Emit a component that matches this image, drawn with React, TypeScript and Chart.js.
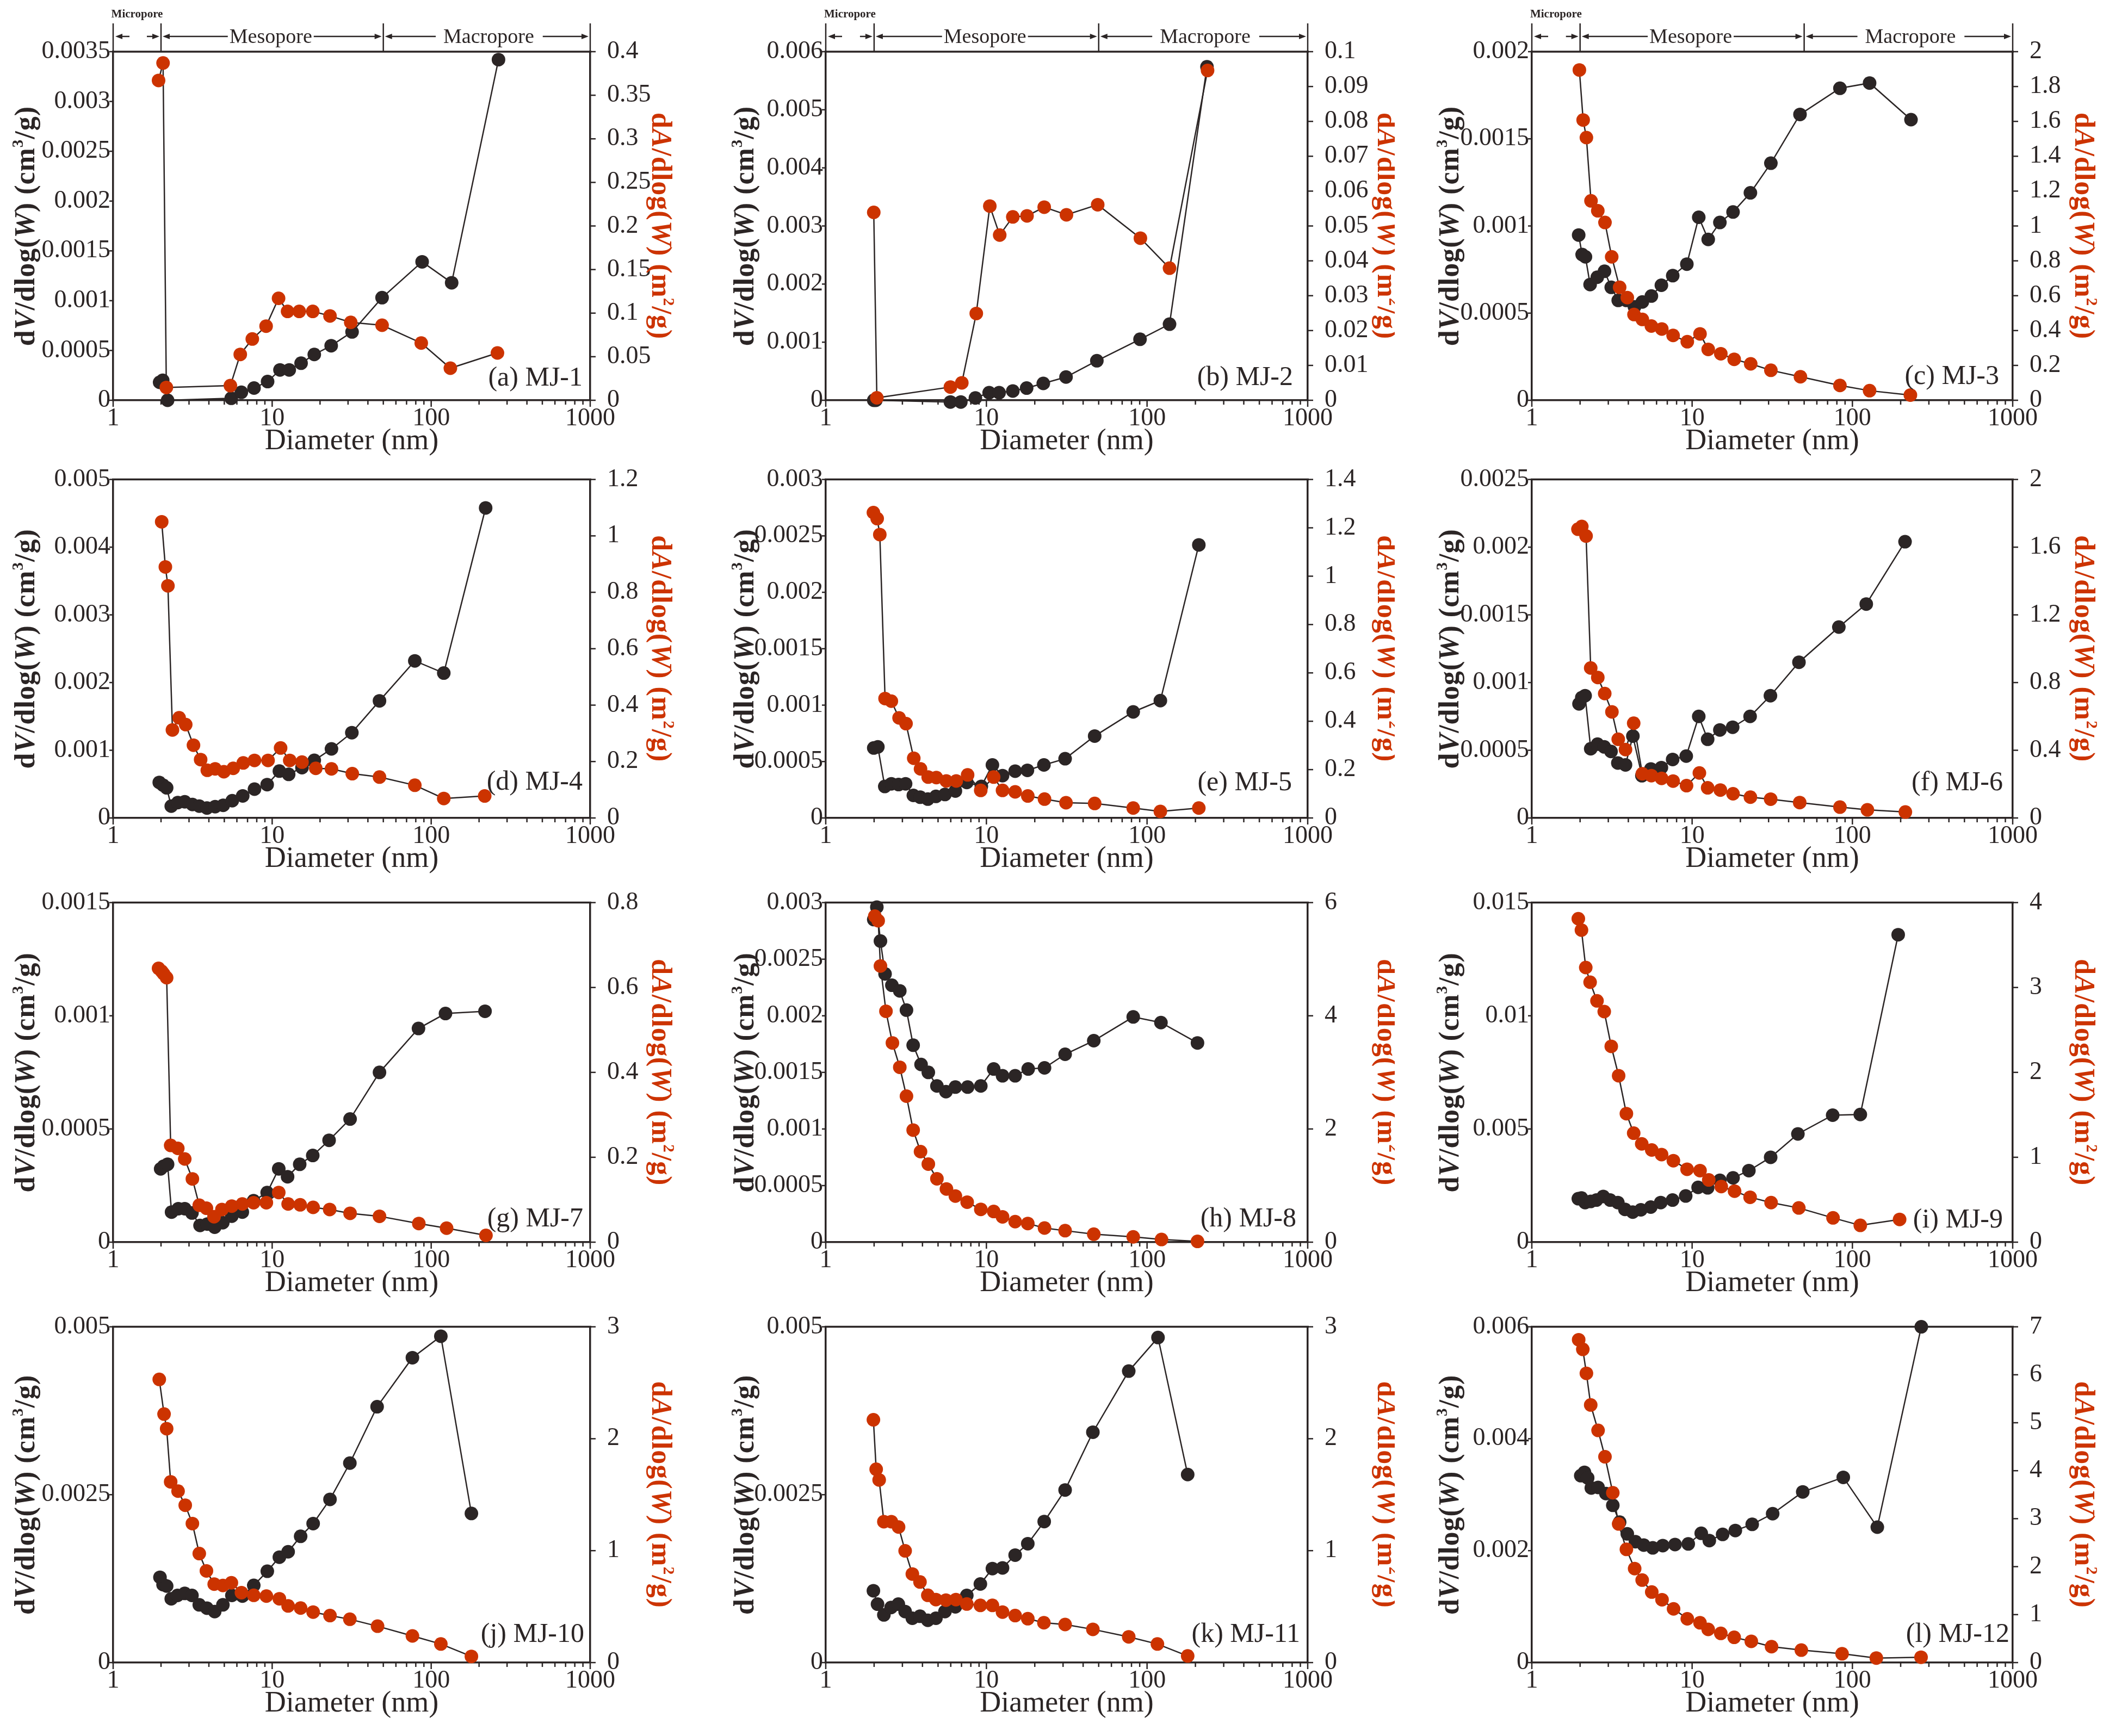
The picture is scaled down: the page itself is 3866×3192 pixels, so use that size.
import { useEffect, useRef } from "react"
import { Chart, registerables } from "chart.js"

Chart.register(...registerables)

const INK = "#2b2525"
const RED = "#cc3300"
const FONT = "'Liberation Serif', 'Times New Roman', serif"
Chart.defaults.font.family = FONT

// ---- data (diameter in nm) ----
const mj1VolX = [1.96, 2.05, 2.2, 5.53, 6.4, 7.69, 9.36, 11.2, 12.8, 15.2, 18.4, 23.5, 31.8, 49.1, 87.7, 134.5, 265]
const mj1VolY = [0.00018, 0.0002, 0, 0.00002, 0.00008, 0.000123, 0.000188, 0.000305, 0.000305, 0.000372, 0.00046, 0.000548, 0.000686, 0.00103, 0.00139, 0.00118, 0.00342]
const mj1AreaX = [1.93, 2.06, 2.16, 5.46, 6.3, 7.5, 9.16, 10.97, 12.5, 14.8, 18.0, 23.1, 31.2, 49.1, 86.6, 132, 261]
const mj1AreaY = [0.367, 0.387, 0.0147, 0.0168, 0.0526, 0.0703, 0.0851, 0.117, 0.102, 0.102, 0.102, 0.0968, 0.0894, 0.0861, 0.0657, 0.0368, 0.0543]

const mj2VolX = [1.99, 2.05, 5.97, 6.93, 8.54, 10.4, 12.0, 14.6, 17.8, 22.6, 31.3, 48.7, 90.4, 138, 236]
const mj2VolY = [0, 0, -0.00003, -0.00003, 0.00004, 0.00013, 0.00013, 0.00016, 0.00021, 0.00029, 0.0004, 0.00068, 0.00105, 0.00131, 0.00574]
const mj2AreaX = [1.99, 2.08, 5.97, 7.03, 8.65, 10.5, 12.1, 14.6, 17.9, 22.9, 31.5, 49.3, 90.9, 138, 238]
const mj2AreaY = [0.0539, 0.0007, 0.0038, 0.005, 0.0249, 0.0557, 0.0474, 0.0526, 0.0529, 0.0554, 0.0532, 0.0561, 0.0465, 0.0379, 0.0946]

const mj3VolX = [1.96, 2.06, 2.16, 2.31, 2.56, 2.84, 3.13, 3.46, 3.89, 4.37, 4.89, 5.57, 6.43, 7.57, 9.27, 11.0, 12.6, 14.9, 18.0, 23.1, 31.0, 47.1, 83.6, 128, 232]
const mj3VolY = [0.000948, 0.000836, 0.000823, 0.000664, 0.000706, 0.00074, 0.000648, 0.000573, 0.000573, 0.000536, 0.000564, 0.000598, 0.00066, 0.000715, 0.000781, 0.00105, 0.000923, 0.00102, 0.00108, 0.00119, 0.00136, 0.00164, 0.00179, 0.00182, 0.00161]
const mj3AreaX = [1.98, 2.09, 2.19, 2.34, 2.58, 2.86, 3.15, 3.53, 3.94, 4.34, 4.89, 5.57, 6.47, 7.61, 9.33, 11.2, 12.6, 15.1, 18.3, 23.2, 31.0, 47.4, 83.6, 128, 230]
const mj3AreaY = [1.895, 1.608, 1.507, 1.144, 1.087, 1.02, 0.823, 0.648, 0.589, 0.492, 0.464, 0.426, 0.409, 0.372, 0.336, 0.381, 0.292, 0.267, 0.235, 0.209, 0.172, 0.135, 0.085, 0.055, 0.03]

const mj4VolX = [1.95, 2.06, 2.17, 2.32, 2.55, 2.82, 3.15, 3.48, 3.89, 4.38, 4.92, 5.61, 6.53, 7.74, 9.3, 11.1, 12.7, 15.4, 18.4, 23.6, 31.7, 47.3, 78.9, 120, 220]
const mj4VolY = [0.000525, 0.000485, 0.000445, 0.000175, 0.000227, 0.000239, 0.000199, 0.000175, 0.000147, 0.000167, 0.000187, 0.000255, 0.000326, 0.000426, 0.000493, 0.000692, 0.000644, 0.000744, 0.000851, 0.00102, 0.00126, 0.00173, 0.00232, 0.00214, 0.00458]
const mj4AreaX = [2.02, 2.13, 2.21, 2.36, 2.6, 2.86, 3.2, 3.55, 3.91, 4.38, 4.97, 5.69, 6.58, 7.74, 9.42, 11.3, 12.9, 15.4, 18.8, 23.6, 31.9, 47.3, 78.9, 120, 217]
const mj4AreaY = [1.05, 0.89, 0.823, 0.312, 0.355, 0.331, 0.258, 0.207, 0.169, 0.174, 0.164, 0.176, 0.195, 0.204, 0.204, 0.248, 0.204, 0.198, 0.176, 0.174, 0.157, 0.145, 0.116, 0.069, 0.078]

const mj5VolX = [1.99, 2.11, 2.33, 2.56, 2.84, 3.14, 3.51, 3.87, 4.32, 4.85, 5.52, 6.41, 7.55, 9.3, 10.9, 12.6, 15.1, 18.0, 22.8, 30.9, 47.2, 82.0, 121, 210]
const mj5VolY = [0.00062, 0.00063, 0.000279, 0.000303, 0.000296, 0.000303, 0.0002, 0.000184, 0.000167, 0.000191, 0.000208, 0.000239, 0.000315, 0.00028, 0.00047, 0.000375, 0.000415, 0.000422, 0.00047, 0.000525, 0.000726, 0.00094, 0.00104, 0.00242]
const mj5AreaX = [1.98, 2.09, 2.17, 2.34, 2.56, 2.86, 3.16, 3.53, 3.89, 4.34, 4.88, 5.63, 6.49, 7.64, 9.22, 11.1, 12.6, 15.1, 18.1, 23.0, 31.3, 47.2, 82, 121, 210]
const mj5AreaY = [1.263, 1.238, 1.172, 0.494, 0.483, 0.414, 0.39, 0.247, 0.203, 0.169, 0.167, 0.153, 0.153, 0.178, 0.114, 0.169, 0.114, 0.108, 0.091, 0.078, 0.063, 0.06, 0.041, 0.027, 0.041]

const mj6VolX = [1.97, 2.05, 2.15, 2.33, 2.57, 2.83, 3.12, 3.44, 3.84, 4.27, 4.86, 5.53, 6.43, 7.56, 9.19, 11.0, 12.5, 14.9, 17.9, 23.0, 30.8, 46.4, 82.3, 122, 213]
const mj6VolY = [0.000843, 0.000889, 0.000903, 0.000511, 0.000545, 0.000525, 0.000491, 0.000406, 0.000392, 0.000605, 0.000312, 0.000362, 0.000372, 0.000432, 0.000457, 0.00075, 0.000581, 0.00065, 0.00067, 0.00075, 0.000903, 0.00115, 0.00141, 0.00158, 0.00204]
const mj6AreaX = [1.94, 2.05, 2.18, 2.33, 2.58, 2.85, 3.16, 3.46, 3.84, 4.32, 4.89, 5.57, 6.45, 7.61, 9.23, 11.1, 12.5, 15.0, 18.0, 23.1, 30.9, 46.9, 83.6, 124, 214]
const mj6AreaY = [1.706, 1.722, 1.666, 0.886, 0.83, 0.735, 0.627, 0.465, 0.404, 0.56, 0.261, 0.25, 0.234, 0.218, 0.191, 0.266, 0.178, 0.165, 0.143, 0.123, 0.111, 0.091, 0.064, 0.048, 0.035]

const mj7VolX = [1.99, 2.08, 2.2, 2.33, 2.57, 2.82, 3.13, 3.52, 3.91, 4.35, 4.89, 5.57, 6.49, 7.64, 9.3, 11.0, 12.5, 14.9, 18.0, 22.8, 30.9, 47.3, 83.2, 123, 218]
const mj7VolY = [0.000324, 0.000336, 0.000344, 0.000133, 0.000148, 0.000148, 0.000129, 0.000074, 0.00008, 0.000066, 0.000086, 0.000115, 0.000133, 0.000183, 0.000219, 0.000324, 0.000289, 0.000344, 0.000383, 0.00045, 0.000544, 0.00075, 0.000944, 0.00101, 0.00102]
const mj7AreaX = [1.93, 2.02, 2.08, 2.17, 2.3, 2.55, 2.82, 3.15, 3.48, 3.86, 4.31, 4.83, 5.57, 6.49, 7.64, 9.19, 11.0, 12.6, 15.0, 18.1, 23.0, 30.9, 47.3, 83.6, 125, 221]
const mj7AreaY = [0.645, 0.638, 0.632, 0.623, 0.228, 0.221, 0.196, 0.149, 0.087, 0.08, 0.06, 0.077, 0.085, 0.09, 0.093, 0.093, 0.117, 0.09, 0.088, 0.082, 0.077, 0.068, 0.061, 0.044, 0.033, 0.016]

const mj8VolX = [1.99, 2.08, 2.19, 2.34, 2.58, 2.89, 3.18, 3.5, 3.92, 4.35, 4.92, 5.6, 6.41, 7.64, 9.23, 11.1, 12.6, 15.1, 18.2, 23.0, 30.9, 46.6, 82, 122, 206]
const mj8VolY = [0.00285, 0.00296, 0.00266, 0.00237, 0.00227, 0.00222, 0.00205, 0.00174, 0.00157, 0.0015, 0.00138, 0.00133, 0.00137, 0.00137, 0.00138, 0.00153, 0.00147, 0.00147, 0.00153, 0.00154, 0.00166, 0.00178, 0.00199, 0.00194, 0.00176]
const mj8AreaX = [2.02, 2.12, 2.19, 2.37, 2.6, 2.89, 3.18, 3.5, 3.89, 4.35, 4.92, 5.64, 6.41, 7.59, 9.23, 11.1, 12.6, 15.1, 18.1, 23.0, 30.9, 46.6, 82, 123, 206]
const mj8AreaY = [5.76, 5.68, 4.88, 4.08, 3.52, 3.09, 2.58, 1.98, 1.6, 1.38, 1.12, 0.94, 0.815, 0.707, 0.58, 0.542, 0.448, 0.363, 0.33, 0.25, 0.203, 0.141, 0.094, 0.047, 0.014]

const mj9VolX = [1.95, 2.04, 2.15, 2.33, 2.53, 2.79, 3.08, 3.44, 3.81, 4.26, 4.79, 5.52, 6.37, 7.55, 9.12, 10.9, 12.5, 14.9, 18.0, 22.6, 30.9, 45.7, 75.3, 112, 193]
const mj9VolY = [0.00192, 0.00195, 0.00175, 0.0018, 0.00186, 0.00202, 0.00186, 0.00175, 0.00145, 0.00133, 0.00143, 0.00155, 0.00175, 0.00186, 0.00204, 0.00242, 0.0024, 0.00273, 0.00284, 0.00316, 0.00375, 0.00478, 0.00561, 0.00564, 0.01358]
const mj9AreaX = [1.95, 2.04, 2.17, 2.31, 2.55, 2.83, 3.13, 3.48, 3.89, 4.32, 4.85, 5.6, 6.45, 7.64, 9.3, 11.2, 12.7, 15.2, 18.4, 23.0, 31.1, 46.3, 75.7, 112, 197]
const mj9AreaY = [3.81, 3.676, 3.235, 3.062, 2.842, 2.716, 2.307, 1.961, 1.514, 1.284, 1.158, 1.086, 1.032, 0.96, 0.859, 0.843, 0.733, 0.655, 0.601, 0.529, 0.466, 0.403, 0.286, 0.198, 0.268]

const mj10VolX = [1.97, 2.06, 2.17, 2.32, 2.54, 2.82, 3.13, 3.48, 3.89, 4.35, 4.9, 5.58, 6.5, 7.66, 9.32, 11.1, 12.6, 15.1, 18.1, 23.1, 30.8, 45.7, 76.2, 115, 179]
const mj10VolY = [0.00127, 0.00116, 0.00114, 0.00095, 0.001, 0.00103, 0.001, 0.00086, 0.00081, 0.00076, 0.00086, 0.001, 0.00099, 0.00115, 0.00136, 0.00157, 0.00165, 0.00188, 0.00207, 0.00243, 0.00297, 0.00381, 0.00454, 0.00486, 0.00222]
const mj10AreaX = [1.95, 2.09, 2.17, 2.3, 2.56, 2.84, 3.15, 3.48, 3.86, 4.32, 4.9, 5.54, 6.41, 7.66, 9.2, 11.1, 12.6, 15.1, 18.1, 23.1, 30.8, 46.0, 76.2, 115, 179]
const mj10AreaY = [2.53, 2.22, 2.09, 1.615, 1.532, 1.406, 1.242, 0.974, 0.819, 0.701, 0.689, 0.713, 0.625, 0.601, 0.594, 0.57, 0.506, 0.487, 0.451, 0.42, 0.387, 0.325, 0.238, 0.166, 0.055]

const mj11VolX = [1.98, 2.1, 2.3, 2.55, 2.83, 3.12, 3.46, 3.86, 4.32, 4.85, 5.52, 6.41, 7.55, 9.17, 10.9, 12.6, 15.1, 18.1, 22.9, 30.9, 46.0, 76.9, 117, 179]
const mj11VolY = [0.00107, 0.00087, 0.00071, 0.00082, 0.00087, 0.00076, 0.00066, 0.00069, 0.00063, 0.00066, 0.00076, 0.00083, 0.001, 0.00117, 0.0014, 0.00141, 0.0016, 0.00177, 0.0021, 0.00257, 0.00343, 0.00434, 0.00484, 0.0028]
const mj11AreaX = [1.98, 2.06, 2.15, 2.3, 2.56, 2.84, 3.12, 3.46, 3.86, 4.32, 4.85, 5.6, 6.46, 7.55, 9.17, 10.9, 12.6, 15.1, 18.1, 22.8, 30.9, 46.0, 76.9, 116, 179]
const mj11AreaY = [2.169, 1.727, 1.632, 1.259, 1.259, 1.211, 0.998, 0.791, 0.72, 0.601, 0.563, 0.558, 0.563, 0.523, 0.511, 0.511, 0.451, 0.42, 0.392, 0.356, 0.34, 0.297, 0.23, 0.166, 0.059]

const mj12VolX = [2.02, 2.13, 2.23, 2.35, 2.59, 2.9, 3.2, 3.53, 3.94, 4.43, 4.99, 5.68, 6.56, 7.82, 9.46, 11.4, 12.8, 15.5, 18.6, 23.7, 31.8, 49.0, 87.7, 143, 269]
const mj12VolY = [0.00334, 0.0034, 0.0033, 0.00312, 0.00313, 0.00302, 0.00281, 0.00251, 0.0023, 0.00216, 0.0021, 0.00205, 0.00209, 0.00211, 0.00212, 0.00231, 0.00218, 0.00229, 0.00236, 0.00247, 0.00266, 0.00305, 0.00331, 0.00242, 0.006]
const mj12AreaX = [1.96, 2.08, 2.19, 2.33, 2.59, 2.86, 3.2, 3.48, 3.89, 4.38, 4.88, 5.6, 6.49, 7.66, 9.33, 11.2, 12.6, 15.1, 18.3, 23.4, 31.3, 48.0, 86.2, 141, 268]
const mj12AreaY = [6.73, 6.53, 6.03, 5.37, 4.84, 4.29, 3.54, 2.89, 2.36, 1.96, 1.72, 1.47, 1.31, 1.12, 0.913, 0.83, 0.692, 0.609, 0.526, 0.443, 0.332, 0.26, 0.183, 0.094, 0.111]

// x axis: labelled decades and all minor ticks
const xMajor = [1, 10, 100, 1000]
const xAllTicks = [1, 2, 3, 4, 5, 6, 7, 8, 9, 10, 20, 30, 40, 50, 60, 70, 80, 90, 100, 200, 300, 400, 500, 600, 700, 800, 900, 1000]

// ---- layout of the 3 x 4 grid (page pixels) ----
const colL = [208, 1518, 2816]
const colR = [1085, 2404, 3700]
const colX0 = [0, 1300, 2598]
const rowT = [95, 863, 1641, 2421]
const rowB = [736, 1504, 2284, 3057]
const titleLeftOff = [158, 146, 148]
const titleRightOff = [127, 142, 128]

const panels = [
  { name: "(a) MJ-1", vx: mj1VolX, vy: mj1VolY, ax: mj1AreaX, ay: mj1AreaY, vMax: 0.0035, vStep: 0.0005, aMax: 0.4, aStep: 0.05, col: 0, row: 0, tag: [14, 27] },
  { name: "(b) MJ-2", vx: mj2VolX, vy: mj2VolY, ax: mj2AreaX, ay: mj2AreaY, vMax: 0.006, vStep: 0.001, aMax: 0.1, aStep: 0.01, col: 1, row: 0, tag: [27, 28] },
  { name: "(c) MJ-3", vx: mj3VolX, vy: mj3VolY, ax: mj3AreaX, ay: mj3AreaY, vMax: 0.002, vStep: 0.0005, aMax: 2, aStep: 0.2, col: 2, row: 0, tag: [25, 30] },
  { name: "(d) MJ-4", vx: mj4VolX, vy: mj4VolY, ax: mj4AreaX, ay: mj4AreaY, vMax: 0.005, vStep: 0.001, aMax: 1.2, aStep: 0.2, col: 0, row: 1, tag: [14, 52] },
  { name: "(e) MJ-5", vx: mj5VolX, vy: mj5VolY, ax: mj5AreaX, ay: mj5AreaY, vMax: 0.003, vStep: 0.0005, aMax: 1.4, aStep: 0.2, col: 1, row: 1, tag: [29, 51] },
  { name: "(f) MJ-6", vx: mj6VolX, vy: mj6VolY, ax: mj6AreaX, ay: mj6AreaY, vMax: 0.0025, vStep: 0.0005, aMax: 2, aStep: 0.4, col: 2, row: 1, tag: [18, 51] },
  { name: "(g) MJ-7", vx: mj7VolX, vy: mj7VolY, ax: mj7AreaX, ay: mj7AreaY, vMax: 0.0015, vStep: 0.0005, aMax: 0.8, aStep: 0.2, col: 0, row: 2, tag: [13, 29] },
  { name: "(h) MJ-8", vx: mj8VolX, vy: mj8VolY, ax: mj8AreaX, ay: mj8AreaY, vMax: 0.003, vStep: 0.0005, aMax: 6, aStep: 2, col: 1, row: 2, tag: [21, 29] },
  { name: "(i) MJ-9", vx: mj9VolX, vy: mj9VolY, ax: mj9AreaX, ay: mj9AreaY, vMax: 0.015, vStep: 0.005, aMax: 4, aStep: 1, col: 2, row: 2, tag: [18, 27] },
  { name: "(j) MJ-10", vx: mj10VolX, vy: mj10VolY, ax: mj10AreaX, ay: mj10AreaY, vMax: 0.005, vStep: 0.0025, aMax: 3, aStep: 1, col: 0, row: 3, tag: [11, 38] },
  { name: "(k) MJ-11", vx: mj11VolX, vy: mj11VolY, ax: mj11AreaX, ay: mj11AreaY, vMax: 0.005, vStep: 0.0025, aMax: 3, aStep: 1, col: 1, row: 3, tag: [14, 38] },
  { name: "(l) MJ-12", vx: mj12VolX, vy: mj12VolY, ax: mj12AreaX, ay: mj12AreaY, vMax: 0.006, vStep: 0.002, aMax: 7, aStep: 1, col: 2, row: 3, tag: [6, 38] },
]

type Seg = { t: string; it?: boolean; sup?: boolean }
const volTitle: Seg[] = [{ t: "d" }, { t: "V", it: true }, { t: "/dlog(" }, { t: "W", it: true }, { t: ") (cm" }, { t: "3", sup: true }, { t: "/g)" }]
const areaTitle: Seg[] = [{ t: "d" }, { t: "A", it: true }, { t: "/dlog(" }, { t: "W", it: true }, { t: ") (m" }, { t: "2", sup: true }, { t: "/g)" }]

function steps(max: number, step: number) {
  const n = Math.round(max / step)
  return Array.from({ length: n + 1 }, (_, i) => +(i * step).toFixed(6))
}

function fmt(v: any) {
  return String(+Number(v).toFixed(6))
}

function drawRich(ctx: CanvasRenderingContext2D, segs: Seg[], cx: number, cy: number, rot: number, size: number, color: string, spacing: number) {
  const fontOf = (s: Seg) => `${s.it ? "italic " : ""}bold ${s.sup ? Math.round(size * 0.55) : size}px ${FONT}`
  ctx.save()
  ctx.translate(cx, cy)
  ctx.rotate(rot)
  ctx.fillStyle = color
  ctx.textBaseline = "middle"
  ctx.textAlign = "left"
  let total = 0
  segs.forEach((s) => {
    ctx.font = fontOf(s)
    for (const ch of s.t) total += ctx.measureText(ch).width + spacing
  })
  let x = -total / 2
  segs.forEach((s) => {
    ctx.font = fontOf(s)
    const y = s.sup ? -size * 0.3 : 0
    for (const ch of s.t) {
      ctx.fillText(ch, x, y)
      x += ctx.measureText(ch).width + spacing
    }
  })
  ctx.restore()
}

function arrow(ctx: CanvasRenderingContext2D, x1: number, x2: number, y: number) {
  const d = x2 > x1 ? 1 : -1
  ctx.beginPath()
  ctx.moveTo(x1, y)
  ctx.lineTo(x2 - d * 5, y)
  ctx.stroke()
  ctx.beginPath()
  ctx.moveTo(x2, y)
  ctx.lineTo(x2 - d * 13, y - 5)
  ctx.lineTo(x2 - d * 13, y + 5)
  ctx.closePath()
  ctx.fill()
}

function line(ctx: CanvasRenderingContext2D, x1: number, y1: number, x2: number, y2: number) {
  ctx.beginPath()
  ctx.moveTo(x1, y1)
  ctx.lineTo(x2, y2)
  ctx.stroke()
}

function Panel({ p }: { p: any }) {
  const chartRef = useRef<HTMLCanvasElement>(null)
  const L = colL[p.col]
  const R = colR[p.col]
  const T = rowT[p.row]
  const B = rowB[p.row]
  const x0 = colX0[p.col]
  const padTop = p.row === 0 ? T : 40
  const leftW = L - x0
  const rightW = 160
  const bottomH = 112
  const width = R + rightW - x0
  const height = padTop + (B - T) + bottomH
  const top = T - padTop

  useEffect(() => {
    if (!chartRef.current) return
    const ctx2d = chartRef.current.getContext("2d")
    if (!ctx2d) return

    const decor = {
      id: "decor",
      beforeDatasetsDraw(chart: any) {
        const { ctx, chartArea: a, scales } = chart
        ctx.save()
        ctx.strokeStyle = INK
        ctx.lineWidth = 3.5
        line(ctx, a.left - 2, a.top, a.right + 2, a.top)
        ctx.lineWidth = 2.5
        xAllTicks.forEach((v) => {
          const px = scales.x.getPixelForValue(v)
          line(ctx, px, a.bottom, px, a.bottom + (xMajor.includes(v) ? 12 : 8))
        })
        scales.y.ticks.forEach((t: any) => {
          const py = scales.y.getPixelForValue(t.value)
          line(ctx, a.left - 7, py, a.left, py)
        })
        scales.y1.ticks.forEach((t: any) => {
          const py = scales.y1.getPixelForValue(t.value)
          line(ctx, a.right, py, a.right + 10, py)
        })
        ctx.restore()
      },
      afterDraw(chart: any) {
        const { ctx, chartArea: a, scales } = chart
        const mid = (a.top + a.bottom) / 2
        drawRich(ctx, volTitle, a.left - titleLeftOff[p.col], mid, -Math.PI / 2, 52, INK, 1)
        drawRich(ctx, areaTitle, a.right + titleRightOff[p.col], mid, Math.PI / 2, 52, RED, 1)

        ctx.save()
        ctx.fillStyle = INK
        ctx.font = `50px ${FONT}`
        ctx.textAlign = "right"
        ctx.textBaseline = "alphabetic"
        ctx.fillText(p.name, a.right - p.tag[0], a.bottom - p.tag[1])

        if (p.row === 0) {
          // pore-size class header
          const x = scales.x
          const yTop = a.top - 52
          const yArr = a.top - 28
          const p1 = x.getPixelForValue(1)
          const p2 = x.getPixelForValue(2)
          const p50 = x.getPixelForValue(50)
          const p1000 = x.getPixelForValue(1000)
          ctx.strokeStyle = INK
          ctx.lineWidth = 2.5
          ;[p1, p2, p50, p1000].forEach((px) => line(ctx, px, yTop, px, a.top))
          arrow(ctx, p1 + 30, p1 + 4, yArr)
          arrow(ctx, p2 - 26, p2 - 3, yArr)

          ctx.textAlign = "center"
          ctx.textBaseline = "middle"
          ctx.font = `38px ${FONT}`
          const mc = x.getPixelForValue(9.8)
          const mw = ctx.measureText("Mesopore").width
          ctx.fillText("Mesopore", mc, yArr + 2)
          arrow(ctx, mc - mw / 2 - 3, p2 + 3, yArr)
          arrow(ctx, mc + mw / 2 + 3, p50 - 3, yArr)

          const ac = x.getPixelForValue(230)
          const aw = ctx.measureText("Macropore").width
          ctx.fillText("Macropore", ac, yArr + 2)
          arrow(ctx, ac - aw / 2 - 14, p50 + 3, yArr)
          arrow(ctx, ac + aw / 2 + 16, p1000 - 3, yArr)

          ctx.font = `bold 21px ${FONT}`
          ctx.fillText("Micropore", (p1 + p2) / 2, a.top - 68)
        }
        ctx.restore()
      },
    }

    const chart = new Chart(ctx2d, {
      type: "scatter",
      data: {
        datasets: [
          {
            label: "dA/dlog(W)",
            data: p.ax.map((x: number, i: number) => ({ x, y: p.ay[i] })),
            yAxisID: "y1",
            showLine: true,
            borderColor: INK,
            borderWidth: 2.5,
            pointStyle: "circle",
            pointRadius: 12.5,
            pointBorderWidth: 0,
            pointBackgroundColor: RED,
            clip: false,
          },
          {
            label: "dV/dlog(W)",
            data: p.vx.map((x: number, i: number) => ({ x, y: p.vy[i] })),
            yAxisID: "y",
            showLine: true,
            borderColor: INK,
            borderWidth: 2.5,
            pointStyle: "circle",
            pointRadius: 12.5,
            pointBorderWidth: 0,
            pointBackgroundColor: INK,
            clip: false,
          },
        ],
      } as any,
      options: {
        animation: false,
        responsive: true,
        maintainAspectRatio: false,
        events: [],
        layout: { padding: { top: padTop, left: 0, right: 0, bottom: 0 } },
        plugins: { legend: { display: false }, tooltip: { enabled: false } },
        scales: {
          x: {
            type: "logarithmic",
            position: "bottom",
            min: 1,
            max: 1000,
            afterBuildTicks: (s: any) => {
              s.ticks = xMajor.map((v) => ({ value: v }))
            },
            afterFit: (s: any) => {
              s.height = bottomH
            },
            grid: { display: false, drawTicks: false },
            border: { display: true, color: INK, width: 3.5 },
            ticks: { autoSkip: false, maxRotation: 0, minRotation: 0, padding: 6, color: INK, font: { size: 46 }, callback: (v: any) => String(v) },
            title: { display: true, text: "Diameter (nm)", color: INK, font: { size: 54, lineHeight: 1 }, padding: { top: 0, bottom: 9 } },
          },
          y: {
            type: "linear",
            position: "left",
            min: 0,
            max: p.vMax,
            afterBuildTicks: (s: any) => {
              s.ticks = steps(p.vMax, p.vStep).map((v) => ({ value: v }))
            },
            afterFit: (s: any) => {
              s.width = leftW
            },
            grid: { display: false, drawTicks: false },
            border: { display: true, color: INK, width: 3.5 },
            ticks: { autoSkip: false, padding: 5, color: INK, font: { size: 46 }, callback: fmt },
          },
          y1: {
            type: "linear",
            position: "right",
            min: 0,
            max: p.aMax,
            afterBuildTicks: (s: any) => {
              s.ticks = steps(p.aMax, p.aStep).map((v) => ({ value: v }))
            },
            afterFit: (s: any) => {
              s.width = rightW
            },
            grid: { display: false, drawTicks: false },
            border: { display: true, color: INK, width: 3.5 },
            ticks: { autoSkip: false, padding: 31, color: INK, font: { size: 46 }, callback: fmt },
          },
        },
      } as any,
      plugins: [decor],
    })

    return () => {
      chart.destroy()
    }
  }, [p])

  return (
    <div style={{ position: "absolute", left: x0, top, width, height }}>
      <canvas ref={chartRef} />
    </div>
  )
}

export default function App() {
  return (
    <div style={{ position: "absolute", left: 0, top: 0, width: 3866, height: 3192, background: "#ffffff", overflow: "hidden" }}>
      {panels.map((p) => (
        <Panel key={p.name} p={p} />
      ))}
    </div>
  )
}
